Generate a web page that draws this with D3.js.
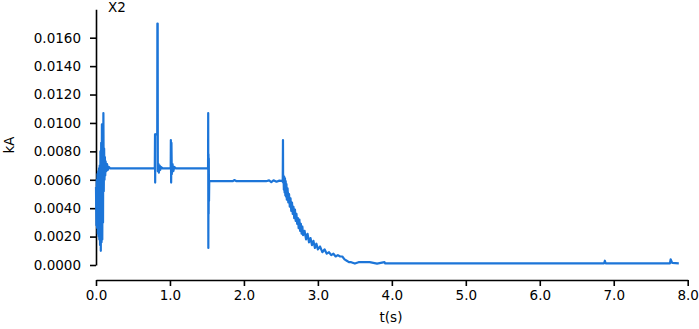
<!DOCTYPE html>
<html>
<head>
<meta charset="utf-8">
<script src="https://cdn.jsdelivr.net/npm/d3@7"></script>
<style>
body { margin: 0; background: #fff; }
text { font-family: "DejaVu Sans", Verdana, sans-serif; fill: #000; }
.axis path, .axis line { stroke: #000; stroke-width: 1.6px; }
.axis text { font-size: 13.5px; font-family: "DejaVu Sans", Verdana, sans-serif; }
</style>
</head>
<body>
<script>
// tick labels
var yTicks = [0, 0.002, 0.004, 0.006, 0.008, 0.010, 0.012, 0.014, 0.016];
var xTicks = [0, 1, 2, 3, 4, 5, 6, 7, 8];

// current X2 (kA) vs time (s), segment by segment
var startup = [
  [0.000, 0.0055], [0.005, 0.0028], [0.010, 0.0060], [0.015, 0.0026], [0.020, 0.0064],
  [0.025, 0.0022], [0.030, 0.0066], [0.035, 0.0020], [0.040, 0.0068], [0.045, 0.0018],
  [0.050, 0.0070], [0.055, 0.0014], [0.060, 0.0080], [0.065, 0.0010], [0.070, 0.0086],
  [0.075, 0.0016], [0.080, 0.0099], [0.085, 0.0018], [0.090, 0.0087], [0.095, 0.0030],
  [0.100, 0.0107], [0.105, 0.0052], [0.110, 0.0082], [0.115, 0.0060], [0.120, 0.0076],
  [0.125, 0.0063], [0.130, 0.0073], [0.140, 0.0066], [0.150, 0.0071], [0.160, 0.0067],
  [0.175, 0.0069], [0.190, 0.0068]
];
var plateau1 = [
  [0.795, 0.0068], [0.798, 0.0092], [0.800, 0.0058], [0.802, 0.0092], [0.828, 0.0092],
  [0.830, 0.0170], [0.834, 0.0170], [0.836, 0.0066], [0.845, 0.0071], [0.850, 0.0065],
  [0.860, 0.0070], [0.870, 0.0067], [0.880, 0.0069], [0.900, 0.0068],
  [1.010, 0.0068], [1.012, 0.0088], [1.016, 0.0058], [1.020, 0.0086], [1.025, 0.0064],
  [1.035, 0.0071], [1.045, 0.0066], [1.060, 0.0069], [1.080, 0.0068],
  [1.515, 0.0068], [1.517, 0.0107], [1.519, 0.0012], [1.521, 0.0078], [1.523, 0.0036],
  [1.525, 0.0075], [1.528, 0.0045], [1.531, 0.0059]
];
var plateau2 = [
  [1.600, 0.0059], [1.700, 0.0059], [1.850, 0.0059], [1.870, 0.00598], [1.900, 0.0059],
  [2.100, 0.0059], [2.300, 0.0059], [2.340, 0.00596], [2.370, 0.00584], [2.400, 0.00596],
  [2.440, 0.00586], [2.480, 0.00594], [2.520, 0.0059], [2.525, 0.0060]
];
var decay = [
  [2.528, 0.0088], [2.530, 0.0058], [2.535, 0.0063], [2.540, 0.0053], [2.545, 0.0062],
  [2.550, 0.0051], [2.555, 0.0061], [2.560, 0.0049], [2.565, 0.0059], [2.570, 0.0048],
  [2.575, 0.0057], [2.580, 0.0046], [2.590, 0.0054], [2.600, 0.0044], [2.610, 0.0050],
  [2.620, 0.0041], [2.630, 0.0047], [2.640, 0.0038], [2.650, 0.0044], [2.660, 0.0036],
  [2.670, 0.0041], [2.680, 0.0033], [2.690, 0.0039], [2.700, 0.0031], [2.710, 0.0036],
  [2.720, 0.0029], [2.730, 0.0033], [2.740, 0.0026], [2.750, 0.0032], [2.760, 0.0024],
  [2.770, 0.0029], [2.780, 0.0022], [2.790, 0.0027], [2.800, 0.0021], [2.820, 0.0024],
  [2.840, 0.0018], [2.860, 0.0022], [2.880, 0.0016], [2.900, 0.0019], [2.920, 0.0014],
  [2.940, 0.0017], [2.960, 0.0012], [2.980, 0.0015], [3.000, 0.0011], [3.030, 0.0013],
  [3.060, 0.0009], [3.090, 0.0011], [3.120, 0.0008], [3.150, 0.0009], [3.180, 0.0007],
  [3.210, 0.0008], [3.240, 0.0006], [3.270, 0.0007], [3.300, 0.0006], [3.330, 0.0006],
  [3.360, 0.0004], [3.390, 0.0003], [3.420, 0.0002], [3.450, 0.0002]
];
var tail = [
  [3.500, 0.0001], [3.550, 0.0002], [3.700, 0.0002], [3.800, 0.0001], [3.900, 0.0002],
  [3.910, 0.00012], [5.000, 0.00012], [6.870, 0.00012], [6.880, 0.0003], [6.890, 0.00012],
  [7.760, 0.00012], [7.770, 0.0004], [7.790, 0.00015], [7.880, 0.00012]
];

var data = startup.concat(plateau1, plateau2, decay, tail);

var svg = d3.select("body").append("svg")
  .attr("width", 699)
  .attr("height", 329);

var x = d3.scaleLinear().domain([0, 8]).range([96, 687.7]);
var y = d3.scaleLinear().domain([0, 0.018]).range([265, 9.3]);

// y axis
svg.append("g")
  .attr("class", "axis")
  .attr("transform", "translate(96,0)")
  .call(d3.axisLeft(y).tickValues(yTicks).tickFormat(d3.format(".4f"))
    .tickSize(6).tickSizeOuter(0).tickPadding(9));

// x axis (detached, below the plot)
svg.append("g")
  .attr("class", "axis")
  .attr("transform", "translate(0,280)")
  .call(d3.axisBottom(x).tickValues(xTicks).tickFormat(d3.format(".1f"))
    .tickSize(6).tickSizeOuter(0).tickPadding(4));

// the curve
var line = d3.line()
  .x(function(d) { return x(d[0]); })
  .y(function(d) { return y(d[1]); });

svg.append("path")
  .datum(data)
  .attr("fill", "none")
  .attr("stroke", "#1c75d8")
  .attr("stroke-width", 2.2)
  .attr("stroke-linejoin", "round")
  .attr("d", line);

// labels
svg.append("text")
  .attr("x", 108).attr("y", 12)
  .style("font-size", "13.5px")
  .text("X2");

svg.append("text")
  .attr("transform", "translate(14,145) rotate(-90)")
  .attr("text-anchor", "middle")
  .style("font-size", "13.5px")
  .text("kA");

svg.append("text")
  .attr("x", 391).attr("y", 322)
  .attr("text-anchor", "middle")
  .style("font-size", "13.5px")
  .text("t(s)");
</script>
</body>
</html>
